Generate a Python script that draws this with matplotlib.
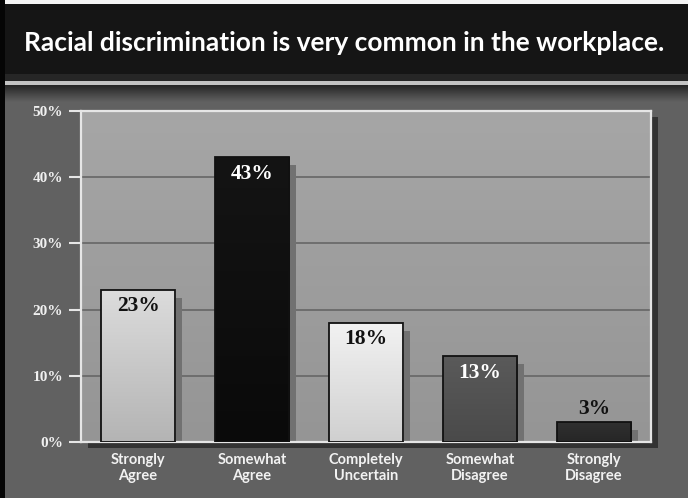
import numpy as np
import matplotlib
matplotlib.use("Agg")
import matplotlib.pyplot as plt
import matplotlib.patches as mpatches
import matplotlib.transforms as mtransforms

# data
categories = ["Strongly\nAgree", "Somewhat\nAgree", "Completely\nUncertain",
              "Somewhat\nDisagree", "Strongly\nDisagree"]
values = [23, 43, 18, 13, 3]
value_labels = ["23%", "43%", "18%", "13%", "3%"]
yticks = [0, 10, 20, 30, 40, 50]
ytick_labels = ["0%", "10%", "20%", "30%", "40%", "50%"]
title = "Racial discrimination is very common in the workplace."

# bar look: (top colour, bottom colour, label colour)
bar_styles = [("#dcdcdc", "#b4b4b4", "#111111"),
              ("#141414", "#0a0a0a", "#ffffff"),
              ("#f2f2f2", "#d0d0d0", "#111111"),
              ("#5a5a5a", "#4a4a4a", "#ffffff"),
              ("#303030", "#262626", "#111111")]

W, H = 688, 498
fig = plt.figure(figsize=(W / 100, H / 100), dpi=100)
fig.patch.set_facecolor("#616161")


def box(x0, y0, x1, y1):
    # pixel box (top-left origin) -> figure fraction rect
    return [x0 / W, 1 - y1 / H, (x1 - x0) / W, (y1 - y0) / H]


def fig_rect(x0, y0, x1, y1, color, z=-5):
    r = box(x0, y0, x1, y1)
    fig.patches.append(mpatches.Rectangle((r[0], r[1]), r[2], r[3],
                                          transform=fig.transFigure,
                                          facecolor=color, edgecolor="none",
                                          zorder=z))


# frame and title band
fig_rect(0, 0, W, 4, "#f4f4f4")
fig_rect(0, 4, W, 74, "#151515")
fig_rect(0, 74, W, 81, "#262626")
fig_rect(0, 81, W, 85, "#c4c4c4")
fig_rect(0, 0, 5, H, "#050505", z=5)

# gradient under the band
gax = fig.add_axes(box(0, 85, W, 102))
gax.imshow(np.linspace(0, 1, 50).reshape(-1, 1),
           cmap=matplotlib.colors.LinearSegmentedColormap.from_list("g", ["#262626", "#616161"]),
           aspect="auto", extent=[0, 1, 0, 1])
gax.axis("off")

fig.text(0.5, 1 - 43 / H, title, color="white", fontsize=19,
         fontfamily="Lato", fontweight="bold", ha="center", va="center")

# plot area shadow
fig_rect(88, 117, 658, 448, "#333333")

ax = fig.add_axes(box(81, 111, 651, 442))
ax.set_zorder(3)
ax.set_xlim(-0.5, len(values) - 0.5)
ax.set_ylim(0, 50)

# background gradient
bg = matplotlib.colors.LinearSegmentedColormap.from_list("bg", ["#a6a6a6", "#959595"])
ax.imshow(np.linspace(0, 1, 100).reshape(-1, 1), cmap=bg, aspect="auto",
          extent=[-0.5, len(values) - 0.5, 0, 50], zorder=0)

for t in yticks[1:-1]:
    ax.axhline(t, color="#6a6a6a", lw=1.3, zorder=1)

x = np.arange(len(values))
bw = 0.65
shadow = ax.transData + mtransforms.ScaledTranslation(7 / 100, -8 / 100, fig.dpi_scale_trans)
for i, v in enumerate(values):
    top, bot, lc = bar_styles[i]
    sh = mpatches.Rectangle((x[i] - bw / 2, 0), bw, v, facecolor="#717171",
                            edgecolor="none", transform=shadow, zorder=2)
    ax.add_patch(sh)
    sh.set_clip_box(ax.bbox)
    rect = mpatches.Rectangle((x[i] - bw / 2, 0), bw, v, facecolor="none",
                              edgecolor="#111111", lw=1.3, zorder=4)
    ax.add_patch(rect)
    cm = matplotlib.colors.LinearSegmentedColormap.from_list("b%d" % i, [bot, top])
    im = ax.imshow(np.linspace(0, 1, 100).reshape(-1, 1), cmap=cm, aspect="auto",
                   origin="lower", extent=[x[i] - bw / 2, x[i] + bw / 2, 0, v], zorder=3)
    im.set_clip_path(rect)
    if v > 6:
        ax.text(x[i], v - 1.0, value_labels[i], ha="center", va="top", color=lc,
                fontsize=15.5, fontweight="bold", fontfamily="Liberation Serif", zorder=5)
    else:
        ax.text(x[i], v + 0.5, value_labels[i], ha="center", va="bottom", color=lc,
                fontsize=15.5, fontweight="bold", fontfamily="Liberation Serif", zorder=5)

ax.set_xlim(-0.5, len(values) - 0.5)
ax.set_ylim(0, 50)

for s in ax.spines.values():
    s.set_color("#e6e6e6")
    s.set_linewidth(1.6)

ax.set_yticks(yticks)
ax.set_yticklabels(ytick_labels, fontfamily="Liberation Serif", fontweight="bold",
                   fontsize=11, color="#f0f0f0")
ax.tick_params(axis="y", length=9, width=1.5, color="#e6e6e6", pad=4)
ax.set_xticks(x)
ax.set_xticklabels(categories, fontfamily="Lato", fontweight="bold", fontsize=10.5,
                   color="#f2f2f2", linespacing=1.15)
ax.tick_params(axis="x", length=0, pad=8)

fig.savefig("out.png", dpi=100, facecolor=fig.get_facecolor())
